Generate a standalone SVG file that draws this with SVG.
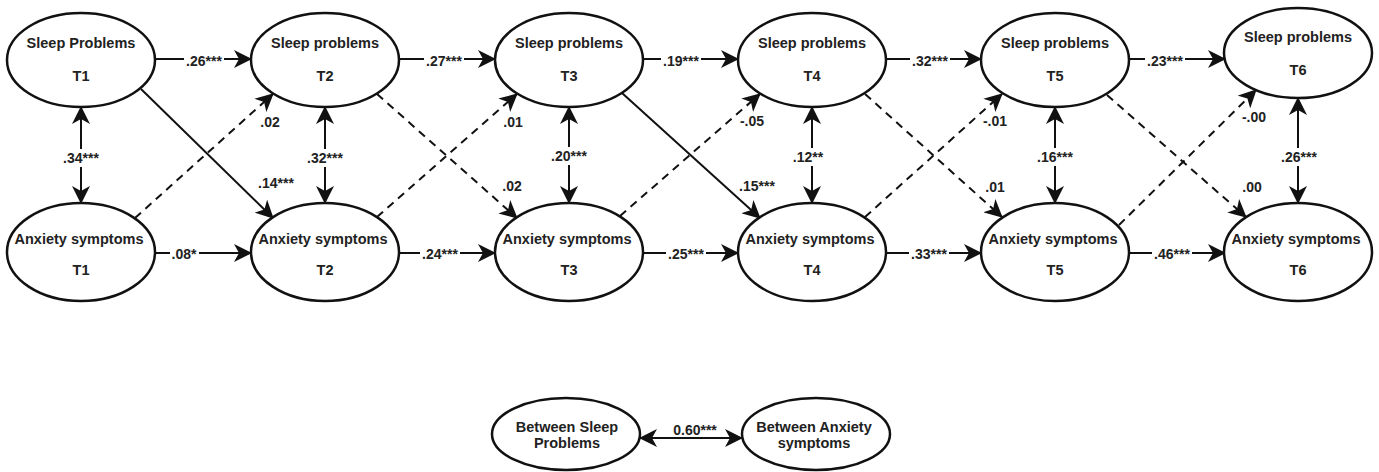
<svg xmlns="http://www.w3.org/2000/svg" width="1379" height="472" viewBox="0 0 1379 472">
<style>
.node ellipse{fill:#fff;stroke:#111;stroke-width:2.5}
.nt{font-family:"Liberation Sans",Arial,sans-serif;font-weight:bold;font-size:14.5px;fill:#222;text-anchor:middle}
.lbl{font-family:"Liberation Sans",Arial,sans-serif;font-weight:bold;font-size:14px;fill:#222;text-anchor:middle}
.c{stroke:#111;stroke-width:2;fill:none}
.d{stroke-dasharray:8 6}
.bg{fill:#fff}
</style>
<defs>
<marker id="ah" viewBox="0 0 18 18" refX="17" refY="9" markerWidth="18" markerHeight="18" markerUnits="userSpaceOnUse" orient="auto-start-reverse">
<path d="M0,0 L18,9 L0,18 L5,9 Z" fill="#111"/>
</marker>
</defs>
<rect width="1379" height="472" fill="#fff"/>

<g id="connectors">
<line class="c" x1="155" y1="59" x2="251" y2="59" marker-end="url(#ah)"/>
<line class="c" x1="399" y1="59" x2="495" y2="59" marker-end="url(#ah)"/>
<line class="c" x1="643" y1="59" x2="738" y2="59" marker-end="url(#ah)"/>
<line class="c" x1="886" y1="59" x2="981" y2="59" marker-end="url(#ah)"/>
<line class="c" x1="1129" y1="59" x2="1225" y2="59" marker-end="url(#ah)"/>
<line class="c" x1="155" y1="253" x2="251" y2="253" marker-end="url(#ah)"/>
<line class="c" x1="399" y1="253" x2="495" y2="253" marker-end="url(#ah)"/>
<line class="c" x1="643" y1="253" x2="738" y2="253" marker-end="url(#ah)"/>
<line class="c" x1="886" y1="253" x2="981" y2="253" marker-end="url(#ah)"/>
<line class="c" x1="1129" y1="253" x2="1225" y2="253" marker-end="url(#ah)"/>
<line class="c" x1="81" y1="107" x2="81" y2="203" marker-start="url(#ah)" marker-end="url(#ah)"/>
<line class="c" x1="325" y1="107" x2="325" y2="203" marker-start="url(#ah)" marker-end="url(#ah)"/>
<line class="c" x1="569" y1="107" x2="569" y2="203" marker-start="url(#ah)" marker-end="url(#ah)"/>
<line class="c" x1="812" y1="107" x2="812" y2="203" marker-start="url(#ah)" marker-end="url(#ah)"/>
<line class="c" x1="1055" y1="107" x2="1055" y2="203" marker-start="url(#ah)" marker-end="url(#ah)"/>
<line class="c" x1="1298" y1="98" x2="1298" y2="203" marker-start="url(#ah)" marker-end="url(#ah)"/>
<line class="c" x1="141" y1="89" x2="273" y2="218" marker-end="url(#ah)"/>
<line class="c" x1="622" y1="93" x2="760" y2="218" marker-end="url(#ah)"/>
<line class="c d" x1="377" y1="94" x2="517" y2="218" marker-end="url(#ah)"/>
<line class="c d" x1="865" y1="94" x2="1002" y2="217" marker-end="url(#ah)"/>
<line class="c d" x1="1107" y1="95" x2="1246" y2="217" marker-end="url(#ah)"/>
<line class="c d" x1="135" y1="218" x2="273" y2="94" marker-end="url(#ah)"/>
<line class="c d" x1="377" y1="217" x2="517" y2="94" marker-end="url(#ah)"/>
<line class="c d" x1="620" y1="216" x2="760" y2="94" marker-end="url(#ah)"/>
<line class="c d" x1="865" y1="217" x2="1002" y2="94" marker-end="url(#ah)"/>
<line class="c d" x1="1119" y1="225" x2="1256" y2="90" marker-end="url(#ah)"/>
<line class="c" x1="640" y1="438" x2="742" y2="438" marker-start="url(#ah)" marker-end="url(#ah)"/>

<rect class="bg" x="184" y="52" width="40" height="16"/><text class="lbl" x="204" y="66">.26***</text>
<rect class="bg" x="424" y="52" width="40" height="16"/><text class="lbl" x="444" y="66">.27***</text>
<rect class="bg" x="661" y="52" width="40" height="16"/><text class="lbl" x="681" y="66">.19***</text>
<rect class="bg" x="910" y="52" width="40" height="16"/><text class="lbl" x="930" y="66">.32***</text>
<rect class="bg" x="1145" y="52" width="40" height="16"/><text class="lbl" x="1165" y="66">.23***</text>
<rect class="bg" x="170" y="246" width="29" height="16"/><text class="lbl" x="184" y="259">.08*</text>
<rect class="bg" x="420" y="246" width="40" height="16"/><text class="lbl" x="440" y="259">.24***</text>
<rect class="bg" x="666" y="246" width="40" height="16"/><text class="lbl" x="686" y="259">.25***</text>
<rect class="bg" x="909" y="246" width="40" height="16"/><text class="lbl" x="929" y="259">.33***</text>
<rect class="bg" x="1152" y="246" width="40" height="16"/><text class="lbl" x="1172" y="259">.46***</text>
<rect class="bg" x="61" y="149" width="40" height="18"/><text class="lbl" x="81" y="163">.34***</text>
<rect class="bg" x="305" y="149" width="40" height="18"/><text class="lbl" x="325" y="163">.32***</text>
<rect class="bg" x="549" y="147" width="40" height="18"/><text class="lbl" x="569" y="161">.20***</text>
<rect class="bg" x="791" y="148" width="35" height="18"/><text class="lbl" x="808" y="162">.12**</text>
<rect class="bg" x="1035" y="148" width="40" height="18"/><text class="lbl" x="1055" y="162">.16***</text>
<rect class="bg" x="1279" y="148" width="40" height="18"/><text class="lbl" x="1299" y="162">.26***</text>
<text class="lbl" x="276" y="188">.14***</text>
<text class="lbl" x="270" y="127">.02</text>
<text class="lbl" x="512" y="191">.02</text>
<text class="lbl" x="513" y="127">.01</text>
<text class="lbl" x="752" y="126">-.05</text>
<text class="lbl" x="757" y="191">.15***</text>
<text class="lbl" x="995" y="192">.01</text>
<text class="lbl" x="995" y="126">-.01</text>
<text class="lbl" x="1254" y="122">-.00</text>
<text class="lbl" x="1252" y="192">.00</text>
<text class="lbl" x="695" y="435">0.60***</text>
</g>

<g id="sleep-t1" class="node"><ellipse cx="81" cy="60" rx="74" ry="47"/><text class="nt" x="81" y="48">Sleep Problems</text><text class="nt" x="81" y="81">T1</text></g>
<g id="sleep-t2" class="node"><ellipse cx="325" cy="60" rx="74" ry="47"/><text class="nt" x="325" y="48">Sleep problems</text><text class="nt" x="325" y="81">T2</text></g>
<g id="sleep-t3" class="node"><ellipse cx="569" cy="60" rx="74" ry="47"/><text class="nt" x="569" y="48">Sleep problems</text><text class="nt" x="569" y="81">T3</text></g>
<g id="sleep-t4" class="node"><ellipse cx="812" cy="60" rx="74" ry="47"/><text class="nt" x="812" y="48">Sleep problems</text><text class="nt" x="812" y="81">T4</text></g>
<g id="sleep-t5" class="node"><ellipse cx="1055" cy="60" rx="74" ry="47"/><text class="nt" x="1055" y="48">Sleep problems</text><text class="nt" x="1055" y="81">T5</text></g>
<g id="sleep-t6" class="node"><ellipse cx="1298" cy="53" rx="74" ry="45"/><text class="nt" x="1298" y="42">Sleep problems</text><text class="nt" x="1298" y="75">T6</text></g>

<g id="anx-t1" class="node"><ellipse cx="81" cy="252" rx="74" ry="49"/><text class="nt" x="79" y="244">Anxiety symptoms</text><text class="nt" x="81" y="275">T1</text></g>
<g id="anx-t2" class="node"><ellipse cx="325" cy="252" rx="74" ry="49"/><text class="nt" x="323" y="244">Anxiety symptoms</text><text class="nt" x="325" y="275">T2</text></g>
<g id="anx-t3" class="node"><ellipse cx="569" cy="252" rx="74" ry="49"/><text class="nt" x="567" y="244">Anxiety symptoms</text><text class="nt" x="569" y="275">T3</text></g>
<g id="anx-t4" class="node"><ellipse cx="812" cy="252" rx="74" ry="49"/><text class="nt" x="810" y="244">Anxiety symptoms</text><text class="nt" x="812" y="275">T4</text></g>
<g id="anx-t5" class="node"><ellipse cx="1055" cy="252" rx="74" ry="49"/><text class="nt" x="1053" y="244">Anxiety symptoms</text><text class="nt" x="1055" y="275">T5</text></g>
<g id="anx-t6" class="node"><ellipse cx="1298" cy="252" rx="74" ry="49"/><text class="nt" x="1296" y="244">Anxiety symptoms</text><text class="nt" x="1298" y="275">T6</text></g>

<g id="between-sleep" class="node"><ellipse cx="566" cy="434" rx="74" ry="36"/><text class="nt" x="567" y="432">Between Sleep</text><text class="nt" x="567" y="448">Problems</text></g>
<g id="between-anx" class="node"><ellipse cx="816" cy="434" rx="74" ry="36"/><text class="nt" x="814" y="432">Between Anxiety</text><text class="nt" x="814" y="448">symptoms</text></g>
</svg>
